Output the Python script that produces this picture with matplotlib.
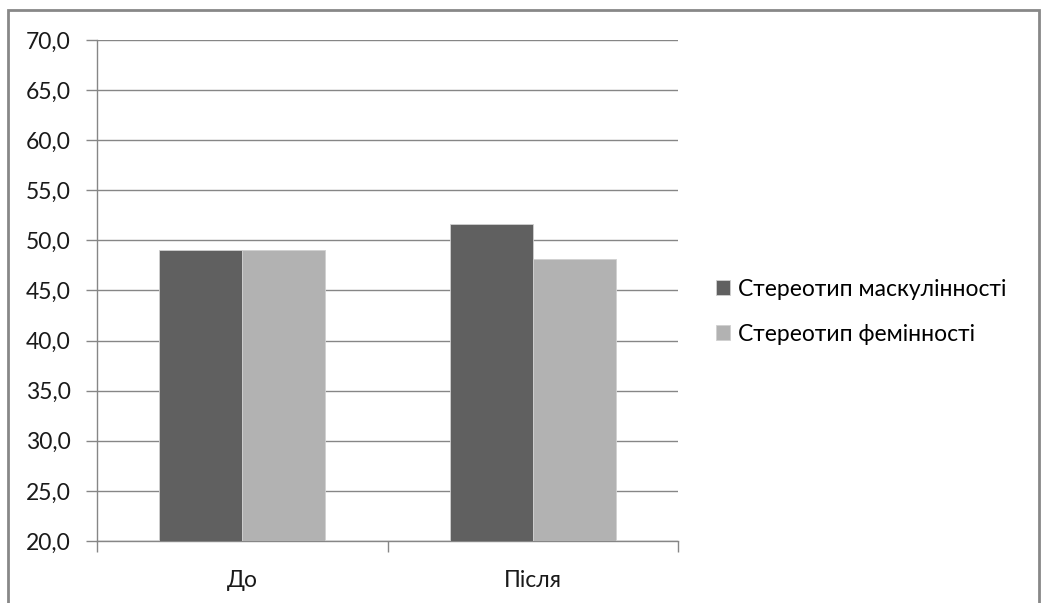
import matplotlib.pyplot as plt
import numpy as np
from matplotlib.patches import Rectangle
from matplotlib.ticker import FuncFormatter, FixedLocator

plt.rcParams['font.family'] = ['Lato', 'DejaVu Sans']

categories = ["До", "Після"]
series_names = ["Стереотип маскулінності", "Стереотип фемінності"]
masculinity = [49.0, 51.6]
femininity = [49.0, 48.1]
colors = ["#606060", "#b2b2b2"]

fig = plt.figure(figsize=(10.49, 6.03), dpi=100)
ax = fig.add_axes([0.0925, 0.1028, 0.5539, 0.8309])

# chart frame
fig.patches.append(Rectangle((0.0076, -0.05), 0.983, 1.033, transform=fig.transFigure,
                             fill=False, edgecolor="#888888", linewidth=2, zorder=0))

x = np.arange(len(categories))
w = 1 / 3.5
for i, (vals, name) in enumerate(zip([masculinity, femininity], series_names)):
    ax.bar(x + (i - 0.5) * w, np.array(vals) - 20, width=w, bottom=20, color=colors[i],
           edgecolor="#d0d0d0", linewidth=0.6, label=name, zorder=3)

ax.set_ylim(20, 70)
ax.set_xlim(-0.5, 1.5)
ax.set_yticks(np.arange(20, 71, 5))
ax.yaxis.set_major_formatter(FuncFormatter(lambda v, p: f"{v:.1f}".replace(".", ",")))
ax.grid(axis="y", color="#868686", linewidth=1, zorder=1)
ax.set_axisbelow(True)

ax.set_xticks(x)
ax.set_xticklabels(categories)
ax.xaxis.set_minor_locator(FixedLocator([-0.5, 0.5, 1.5]))
ax.tick_params(axis="x", which="major", length=0, pad=21, labelsize=16.5, labelcolor="#1a1a1a")
ax.tick_params(axis="x", which="minor", length=8, color="#868686", width=1)
ax.tick_params(axis="y", length=8, color="#868686", width=1, labelsize=16.5,
               labelcolor="#1a1a1a", pad=11)

for s in ["top", "right"]:
    ax.spines[s].set_visible(False)
for s in ["left", "bottom"]:
    ax.spines[s].set_color("#868686")
    ax.spines[s].set_linewidth(1)

leg = ax.legend(loc="center left", bbox_to_anchor=(1.03, 0.458), frameon=False,
                fontsize=16.5, handlelength=0.6, handleheight=0.6, handletextpad=0.35,
                labelspacing=1.05)

fig.savefig("out.png", dpi=100, facecolor="white")
